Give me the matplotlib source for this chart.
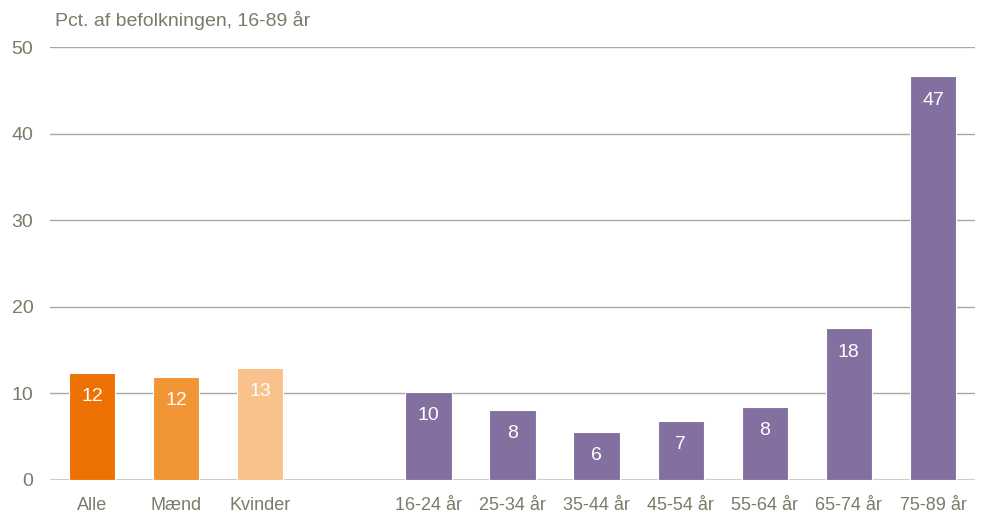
import matplotlib
matplotlib.use("Agg")
import matplotlib.pyplot as plt
from matplotlib import font_manager

names = {f.name for f in font_manager.fontManager.ttflist}
FONT = ["Liberation Sans Narrow", "Liberation Sans", "DejaVu Sans"]
FONT = [f for f in FONT if f in names] or ["DejaVu Sans"]
plt.rcParams["font.family"] = FONT

categories = ["Alle", "Mænd", "Kvinder", "", "16-24 år", "25-34 år", "35-44 år",
              "45-54 år", "55-64 år", "65-74 år", "75-89 år"]
values = [12.4, 11.9, 12.9, 0, 10.2, 8.1, 5.6, 6.8, 8.4, 17.5, 46.6]
labels = ["12", "12", "13", "", "10", "8", "6", "7", "8", "18", "47"]
colors = ["#EE7203", "#F29534", "#F9C18B", "none"] + ["#8470A0"] * 7

TXT = "#7B7B69"
GRID = "#A9A99A"

fig = plt.figure(figsize=(9.86, 5.23), dpi=100)
ax = fig.add_axes([50 / 986, 43 / 523, 925 / 986, 433 / 523])

x = range(len(categories))
bars = ax.bar(x, values, width=0.55, color=colors, edgecolor="white", linewidth=0.8, zorder=3)
for b, v, lab in zip(bars, values, labels):
    if not lab:
        continue
    ax.annotate(lab, (b.get_x() + b.get_width() / 2, v), xytext=(0, -17),
                textcoords="offset points", ha="center", va="center",
                color="white", fontsize=14, zorder=4)

ax.set_xlim(-0.5, len(categories) - 0.5)
ax.set_ylim(0, 50)
ax.set_yticks(range(0, 51, 10))
ax.set_xticks(list(x))
ax.set_xticklabels(categories)
ax.grid(axis="y", color=GRID, lw=1.0, zorder=1)
ax.axhline(0, color="#C9C9C0", lw=2.0, zorder=2)
for s in ax.spines.values():
    s.set_visible(False)
ax.tick_params(axis="both", length=0, labelsize=14, labelcolor=TXT)
ax.tick_params(axis="x", labelsize=13, pad=12)
ax.tick_params(axis="y", pad=12)

fig.text(55 / 986, 1 - 20 / 523, "Pct. af befolkningen, 16-89 år", ha="left", va="center",
         fontsize=14, color=TXT)

fig.savefig("out.png", dpi=100)
